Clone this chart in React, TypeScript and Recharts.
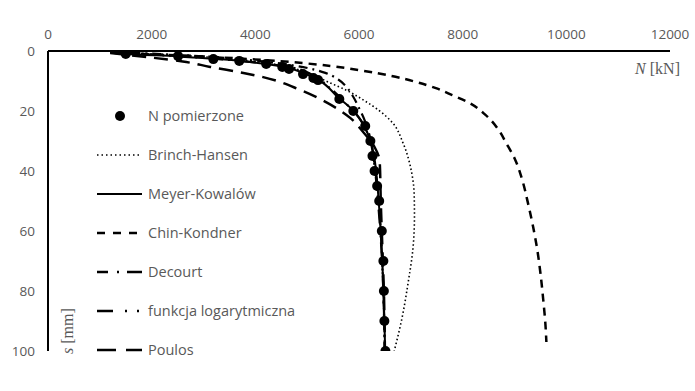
import { LineChart, Line, XAxis, YAxis, Label } from "recharts";

// N [kN] vs s [mm] – measured points and fitted curves
const measured = [
  { N: 1500, s: 1 }, { N: 2510, s: 1.7 }, { N: 3190, s: 2.7 }, { N: 3690, s: 3.3 },
  { N: 4210, s: 4.3 }, { N: 4520, s: 5.3 }, { N: 4650, s: 6 }, { N: 4920, s: 7.7 },
  { N: 5120, s: 9 }, { N: 5210, s: 9.7 }, { N: 5620, s: 16 }, { N: 5890, s: 20 },
  { N: 6120, s: 25 }, { N: 6220, s: 30 }, { N: 6260, s: 35 }, { N: 6300, s: 40 },
  { N: 6350, s: 45 }, { N: 6390, s: 50 }, { N: 6440, s: 60 }, { N: 6470, s: 70 },
  { N: 6480, s: 80 }, { N: 6490, s: 90 }, { N: 6510, s: 100 },
];

const brinchHansen = [
  { N: 1200, s: 0.3 }, { N: 2500, s: 1.4 }, { N: 3700, s: 2.9 }, { N: 4500, s: 4.8 },
  { N: 5000, s: 7.2 }, { N: 5400, s: 10.3 }, { N: 5770, s: 13.2 }, { N: 6100, s: 16.5 },
  { N: 6400, s: 20 }, { N: 6650, s: 24 }, { N: 6850, s: 30.7 }, { N: 7010, s: 40 },
  { N: 7065, s: 48 }, { N: 7070, s: 55 }, { N: 7040, s: 66 }, { N: 6950, s: 77 },
  { N: 6830, s: 89 }, { N: 6680, s: 100 },
];

const meyerKowalow = [
  { N: 1200, s: 0.5 }, { N: 1500, s: 1 }, { N: 2500, s: 1.8 }, { N: 3200, s: 2.6 },
  { N: 3700, s: 3.3 }, { N: 4200, s: 4.3 }, { N: 4600, s: 5.5 }, { N: 4950, s: 7.5 },
  { N: 5200, s: 9.5 }, { N: 5600, s: 15.5 }, { N: 5900, s: 20 }, { N: 6100, s: 25 },
  { N: 6220, s: 30 }, { N: 6290, s: 35 }, { N: 6330, s: 40 }, { N: 6380, s: 50 },
  { N: 6420, s: 60 }, { N: 6450, s: 70 }, { N: 6470, s: 80 }, { N: 6490, s: 90 },
  { N: 6505, s: 100 },
];

const chinKondner = [
  { N: 1250, s: 0.6 }, { N: 2600, s: 1.5 }, { N: 3700, s: 2.5 }, { N: 4700, s: 3.7 },
  { N: 5450, s: 5 }, { N: 6050, s: 6.5 }, { N: 6620, s: 8.3 }, { N: 7100, s: 10.3 },
  { N: 7470, s: 12.3 }, { N: 7800, s: 14.7 }, { N: 8130, s: 17.3 }, { N: 8440, s: 21.3 },
  { N: 8670, s: 25.7 }, { N: 8840, s: 30.7 }, { N: 9015, s: 36.3 }, { N: 9150, s: 43 },
  { N: 9260, s: 50.7 }, { N: 9360, s: 58.7 }, { N: 9440, s: 66.3 }, { N: 9500, s: 74 },
  { N: 9555, s: 83 }, { N: 9595, s: 90.7 }, { N: 9615, s: 97 },
];

const decourt = [
  { N: 1200, s: 0.3 }, { N: 2000, s: 0.9 }, { N: 3000, s: 1.8 }, { N: 4000, s: 3.2 },
  { N: 4800, s: 5 }, { N: 5350, s: 7.3 }, { N: 5600, s: 9.5 }, { N: 5760, s: 12 },
  { N: 5880, s: 15 }, { N: 6000, s: 19 }, { N: 6130, s: 24 }, { N: 6230, s: 30 },
  { N: 6300, s: 38 }, { N: 6370, s: 48 }, { N: 6420, s: 60 }, { N: 6460, s: 75 },
  { N: 6485, s: 90 }, { N: 6495, s: 100 },
];

const logarytmiczna = [
  { N: 1200, s: 0.5 }, { N: 2000, s: 1.2 }, { N: 3000, s: 2.3 }, { N: 4000, s: 3.8 },
  { N: 4700, s: 5.5 }, { N: 5150, s: 8.5 }, { N: 5450, s: 12.5 }, { N: 5750, s: 17.5 },
  { N: 6030, s: 23 }, { N: 6200, s: 29 }, { N: 6290, s: 37 }, { N: 6350, s: 47 },
  { N: 6410, s: 60 }, { N: 6450, s: 72 }, { N: 6480, s: 86 }, { N: 6500, s: 100 },
];

const poulos = [
  { N: 1200, s: 0.7 }, { N: 2000, s: 2.2 }, { N: 2600, s: 3.5 }, { N: 3130, s: 5.3 },
  { N: 3770, s: 7.3 }, { N: 4150, s: 8.7 }, { N: 4870, s: 13 }, { N: 5390, s: 17.3 },
  { N: 5830, s: 22.3 }, { N: 6080, s: 27 }, { N: 6300, s: 32 }, { N: 6400, s: 37 },
  { N: 6420, s: 50 }, { N: 6450, s: 65 }, { N: 6480, s: 80 }, { N: 6500, s: 100 },
];

const xTicks = [0, 2000, 4000, 6000, 8000, 10000, 12000];
const yTicks = [0, 20, 40, 60, 80, 100];

const GRAY = "#595959";
const FONT = "'Open Sans', sans-serif";

const legendItems = [
  { name: "N pomierzone", dot: true, dash: "", w: 0 },
  { name: "Brinch-Hansen", dot: false, dash: "1.5 3", w: 1.5 },
  { name: "Meyer-Kowalów", dot: false, dash: "", w: 2 },
  { name: "Chin-Kondner", dot: false, dash: "8 8", w: 2.5 },
  { name: "Decourt", dot: false, dash: "11 9 2 8 15", w: 2.5 },
  { name: "funkcja logarytmiczna", dot: false, dash: "16 12 2 10 2 20", w: 2.5 },
  { name: "Poulos", dot: false, dash: "19 10 16", w: 2.5 },
];

const ChartLegend = () => (
  <div style={{ position: "absolute", left: 97, top: 96, fontFamily: FONT, fontSize: 14.5, color: GRAY }}>
    {legendItems.map((it) => (
      <div key={it.name} style={{ height: 39, display: "flex", alignItems: "center" }}>
        <svg width={46} height={12}>
          {it.dot ? (
            <circle cx={23} cy={6} r={5} fill="#000" />
          ) : (
            <line x1={0} y1={6} x2={45} y2={6} stroke="#000" strokeWidth={it.w} strokeDasharray={it.dash} />
          )}
        </svg>
        <span style={{ marginLeft: 5 }}>{it.name}</span>
      </div>
    ))}
  </div>
);

export default function App() {
  const tick = { fill: GRAY, fontSize: 13.5, fontFamily: FONT };
  return (
    <div style={{ position: "absolute", left: 0, top: 0, width: 695, height: 391 }}>
      <LineChart width={695} height={391} margin={{ top: 0, right: 25, bottom: 40, left: 0 }}>
        <XAxis
          type="number"
          dataKey="N"
          orientation="top"
          domain={[0, 12000]}
          ticks={xTicks}
          height={51}
          tickLine={false}
          tickMargin={6}
          axisLine={{ stroke: "#000", strokeWidth: 2 }}
          tick={tick}
          allowDataOverflow
        >
          <Label
            content={({ viewBox }: any) => (
              <text
                x={viewBox.x + viewBox.width + 10}
                y={viewBox.y + viewBox.height + 23}
                textAnchor="end"
                fill={GRAY}
                fontSize={16}
                fontFamily="'Liberation Serif', serif"
              >
                <tspan fontStyle="italic">N</tspan> [kN]
              </text>
            )}
          />
        </XAxis>
        <YAxis
          type="number"
          dataKey="s"
          reversed
          domain={[0, 100]}
          ticks={yTicks}
          width={48}
          tickLine={false}
          tickMargin={7}
          axisLine={{ stroke: "#000", strokeWidth: 2 }}
          tick={tick}
          allowDataOverflow
        >
          <Label
            content={({ viewBox }: any) => {
              const x = viewBox.x + viewBox.width + 25;
              const y = viewBox.y + viewBox.height + 3;
              return (
                <text
                  x={x}
                  y={y}
                  transform={`rotate(-90 ${x} ${y})`}
                  textAnchor="start"
                  fill={GRAY}
                  fontSize={16}
                  fontFamily="'Liberation Serif', serif"
                >
                  <tspan fontStyle="italic">s</tspan> [mm]
                </text>
              );
            }}
          />
        </YAxis>
        <Line data={brinchHansen} dataKey="s" type="monotoneY" stroke="#000" strokeWidth={1.6} strokeDasharray="1.5 2.5" dot={false} isAnimationActive={false} />
        <Line data={chinKondner} dataKey="s" type="monotoneY" stroke="#000" strokeWidth={2.5} strokeDasharray="8 6" dot={false} isAnimationActive={false} />
        <Line data={decourt} dataKey="s" type="monotoneY" stroke="#000" strokeWidth={2.2} strokeDasharray="9 5 2 5" dot={false} isAnimationActive={false} />
        <Line data={logarytmiczna} dataKey="s" type="monotoneY" stroke="#000" strokeWidth={2.2} strokeDasharray="14 5 2 5 2 5" dot={false} isAnimationActive={false} />
        <Line data={poulos} dataKey="s" type="monotoneY" stroke="#000" strokeWidth={2.5} strokeDasharray="14 8" dot={false} isAnimationActive={false} />
        <Line data={meyerKowalow} dataKey="s" type="monotoneY" stroke="#000" strokeWidth={2} dot={false} isAnimationActive={false} />
        <Line
          data={measured}
          dataKey="s"
          stroke="none"
          strokeWidth={0}
          dot={{ r: 5, fill: "#000", stroke: "#000", strokeWidth: 0 }}
          isAnimationActive={false}
        />
      </LineChart>
      <ChartLegend />
    </div>
  );
}
